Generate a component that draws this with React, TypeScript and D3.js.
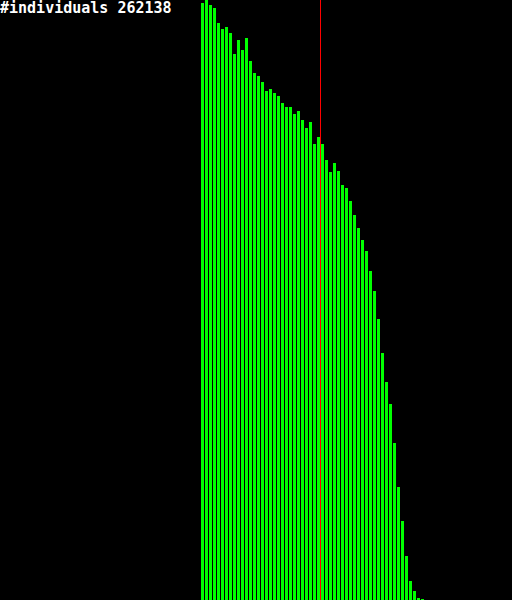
import * as d3 from "d3";

// histogram counts per bin (bin 0 .. 55)
const bins: number[] = Array.from({ length: 56 }, (_, i) => i);
const counts: number[] = [
  597, 600, 595, 592, 577, 571, 573, 567, 546, 560,
  550, 562, 539, 527, 524, 518, 509, 511, 507, 504,
  497, 493, 493, 486, 489, 480, 472, 478, 456, 463,
  456, 440, 428, 437, 429, 415, 412, 399, 385, 372,
  360, 349, 329, 309, 281, 247, 218, 196, 157, 113,
  79, 44, 19, 9, 2, 1,
];
// vertical marker (e.g. mean) position in bin units
const markerBin = 29.75;
const title = "#individuals 262138";

export default function App() {
  const width = 512;
  const height = 600;
  const binWidth = 4;
  const barLeft = 201;

  const xScale = d3
    .scaleLinear()
    .domain([0, bins.length])
    .range([barLeft, barLeft + bins.length * binWidth]);

  const yScale = d3.scaleLinear().domain([0, 600]).range([height, 0]);

  return (
    <svg
      width={width}
      height={height}
      style={{ position: "absolute", left: 0, top: 0, display: "block" }}
    >
      <rect x={0} y={0} width={width} height={height} fill="#000" />
      {bins.map((b) => (
        <rect
          key={b}
          x={xScale(b)}
          y={yScale(counts[b])}
          width={binWidth - 1}
          height={height - yScale(counts[b])}
          fill="#00ff00"
          shapeRendering="crispEdges"
        />
      ))}
      {/* marker line */}
      <rect
        x={xScale(markerBin)}
        y={0}
        width={1}
        height={height}
        fill="#ff0000"
        shapeRendering="crispEdges"
      />
      <text
        x={0}
        y={13}
        fill="#fff"
        fontFamily="DejaVu Sans Mono, monospace"
        fontWeight="bold"
        fontSize={15}
      >
        {title}
      </text>
    </svg>
  );
}
